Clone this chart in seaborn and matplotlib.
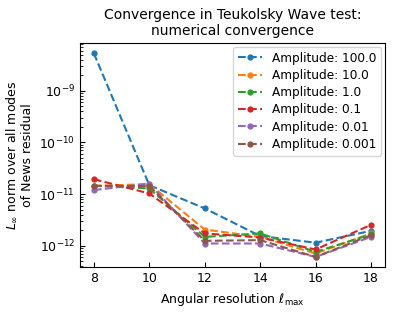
import matplotlib
matplotlib.use("Agg")
import matplotlib.pyplot as plt
import seaborn as sns
import numpy as np

ell = [8, 10, 12, 14, 16, 18]
labels = ["Amplitude: 100.0", "Amplitude: 10.0", "Amplitude: 1.0",
          "Amplitude: 0.1", "Amplitude: 0.01", "Amplitude: 0.001"]
amp_100 = [5.3e-9, 1.49e-11, 5.3e-12, 1.55e-12, 1.15e-12, 1.95e-12]
amp_10 = [1.45e-11, 1.56e-11, 2.07e-12, 1.49e-12, 7.1e-13, 1.74e-12]
amp_1 = [1.45e-11, 1.29e-11, 1.49e-12, 1.74e-12, 7.65e-13, 1.66e-12]
amp_01 = [1.95e-11, 1.03e-11, 1.74e-12, 1.45e-12, 8.5e-13, 2.55e-12]
amp_001 = [1.2e-11, 1.6e-11, 1.11e-12, 1.11e-12, 6.1e-13, 1.49e-12]
amp_0001 = [1.45e-11, 1.43e-11, 1.25e-12, 1.29e-12, 6.1e-13, 1.61e-12]
series = [amp_100, amp_10, amp_1, amp_01, amp_001, amp_0001]

colors = sns.color_palette("tab10", 6)

fig = plt.figure(figsize=(3.98, 3.15), dpi=100)
ax = fig.add_axes([0.201, 0.152, 0.766, 0.711])

for lab, vals, c in zip(labels, series, colors):
    sns.lineplot(x=ell, y=vals, ax=ax, label=lab, color=c, marker="o",
                 markersize=4.5, markeredgewidth=0, linestyle="--", linewidth=1.5)

ax.set_yscale("log")
ax.tick_params(direction="in", which="both", labelsize=9)
ax.set_xticks(ell)
ax.set_xlabel(r"Angular resolution $\ell_{\rm max}$", fontsize=9)
ax.set_ylabel("$L_\\infty$ norm over all modes\nof News residual", fontsize=9)
ax.set_title("Convergence in Teukolsky Wave test:\nnumerical convergence", fontsize=10)
ax.legend(loc="upper right", fontsize=8.7, labelspacing=0.35, borderaxespad=0.3)

fig.savefig("out.png", dpi=100)
